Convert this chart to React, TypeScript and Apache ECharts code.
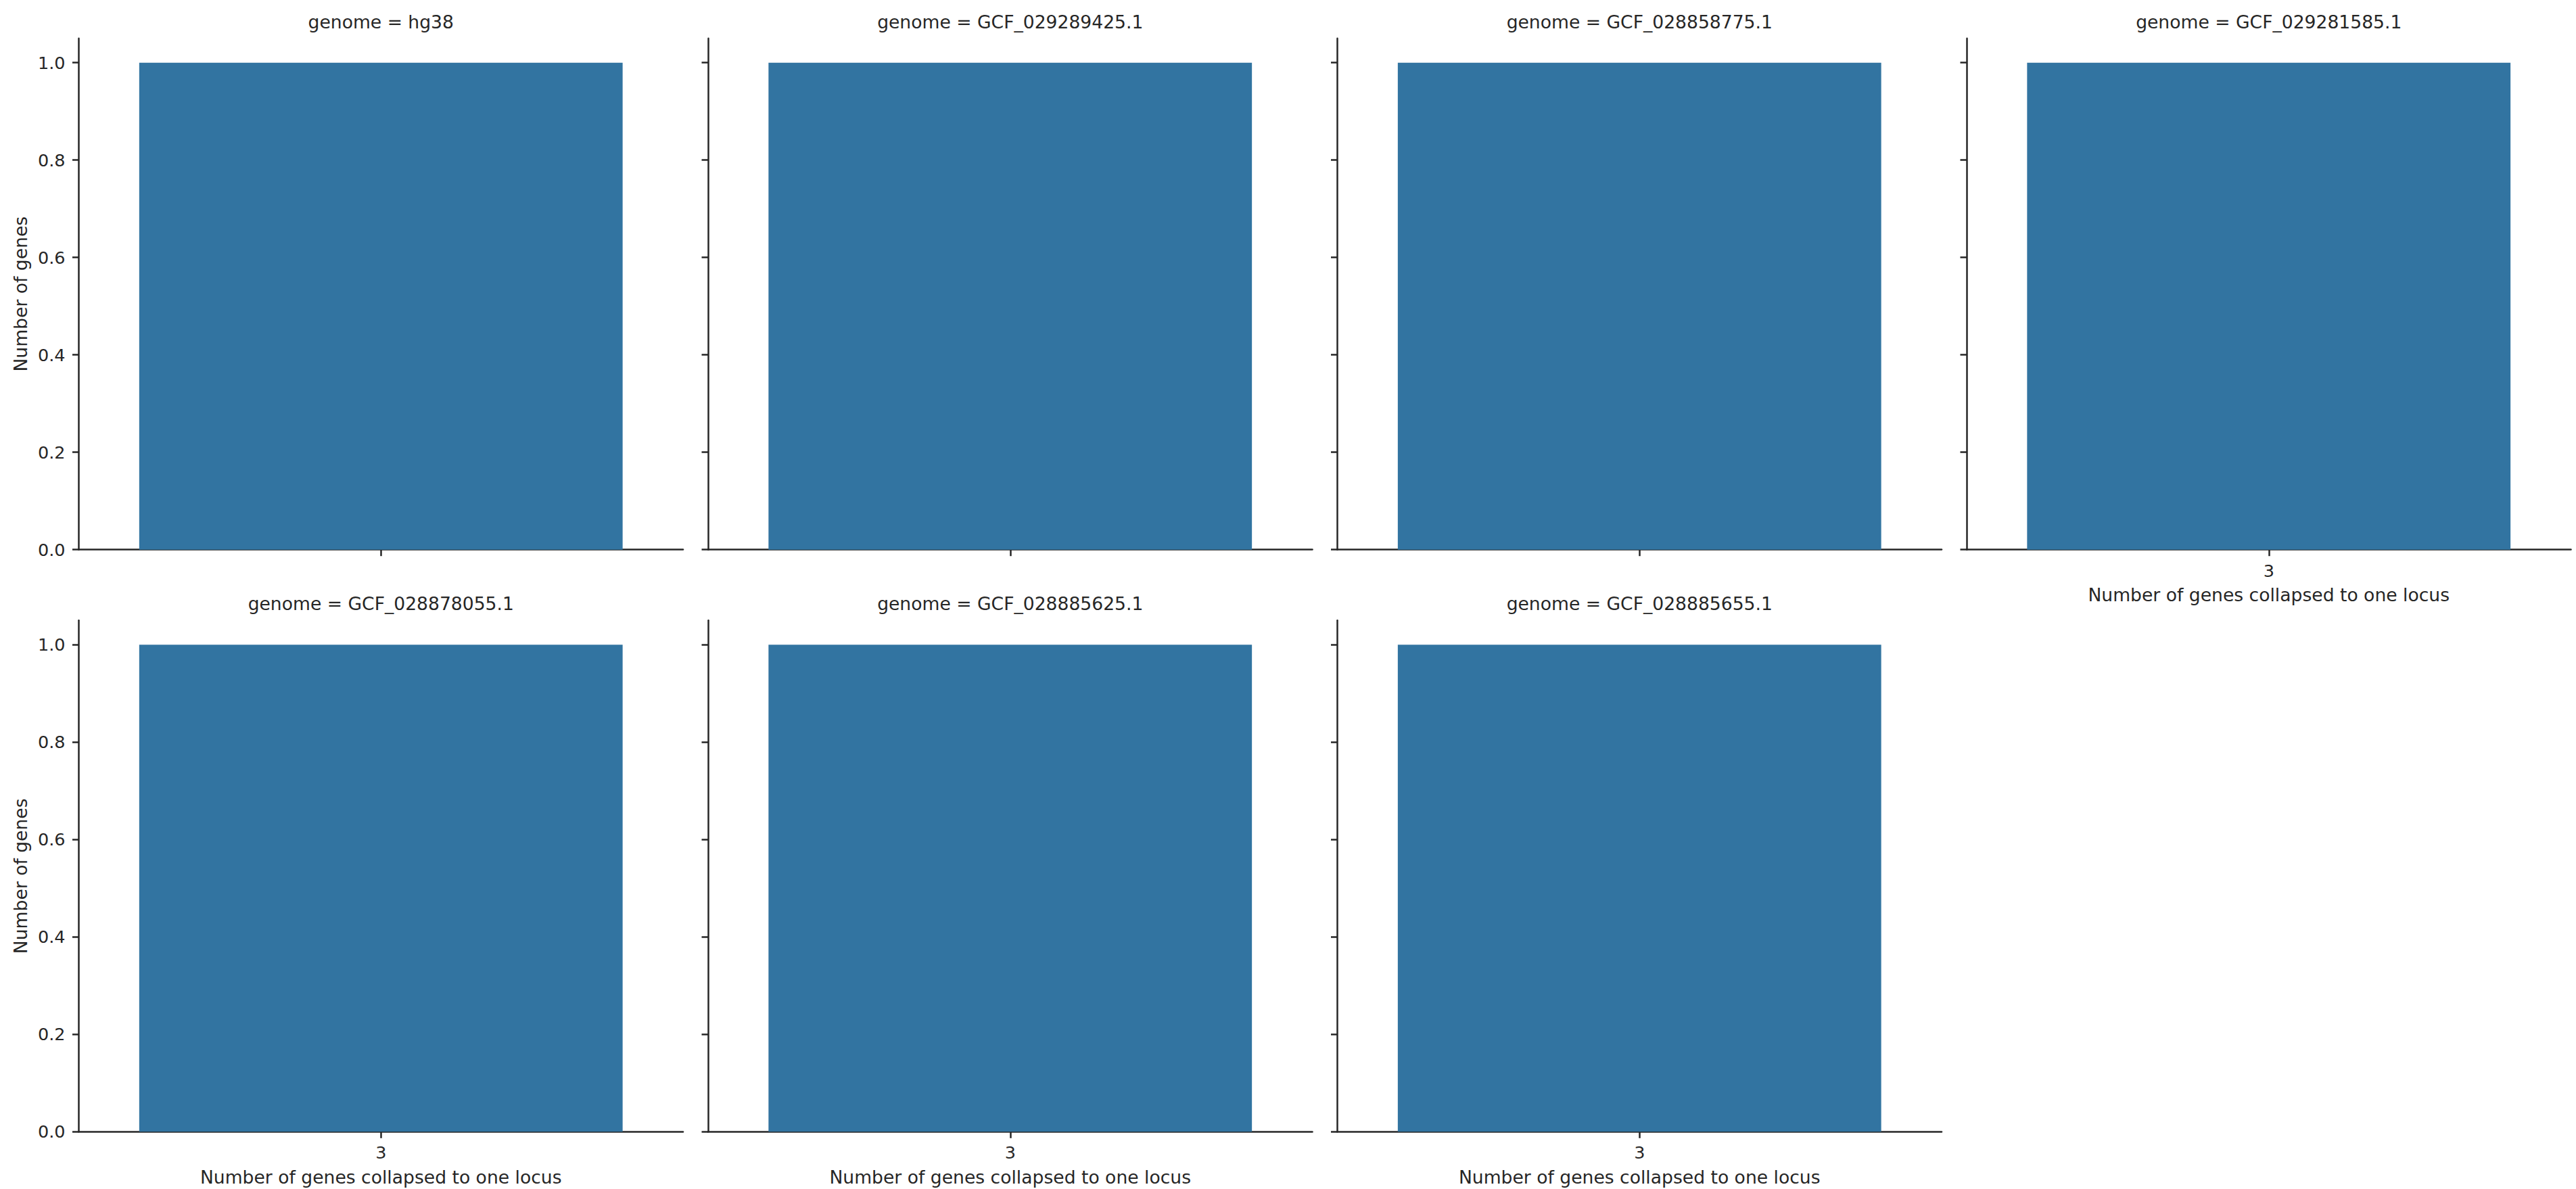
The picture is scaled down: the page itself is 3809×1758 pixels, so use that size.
import React, { useEffect, useRef } from "react";
import * as echarts from "echarts";

const genomes = [
  "hg38",
  "GCF_029289425.1",
  "GCF_028858775.1",
  "GCF_029281585.1",
  "GCF_028878055.1",
  "GCF_028885625.1",
  "GCF_028885655.1",
];
const categories = ["3"];
// number of genes for category "3", one value per genome panel
const geneCounts = [1, 1, 1, 1, 1, 1, 1];
const yTicks = [0, 0.2, 0.4, 0.6, 0.8, 1.0];
const yMax = 1.05;
const xLabel = "Number of genes collapsed to one locus";
const yLabel = "Number of genes";

const W = 3809;
const H = 1758;
const INK = "#262626";
const BAR = "#3274a1";
const FONT = "DejaVu Sans";

const COLS = 4;
const LEFT0 = 116.5;
const COL_STEP = 930.5;
const PANEL_W = 893.5;
const ROW_TOPS = [56.7, 917.3];
const PANEL_H = 756;

export default function App() {
  const ref = useRef<HTMLDivElement>(null);

  useEffect(() => {
    if (!ref.current) return;
    const chart = echarts.init(ref.current, null, { renderer: "svg", width: W, height: H });

    const grids: any[] = [];
    const xAxes: any[] = [];
    const yAxes: any[] = [];
    const series: any[] = [];
    const graphics: any[] = [];
    const n = genomes.length;

    genomes.forEach((g, i) => {
      const row = Math.floor(i / COLS);
      const col = i % COLS;
      const left = LEFT0 + col * COL_STEP;
      const top = ROW_TOPS[row];
      // show x labels if no panel below this one
      const showX = i + COLS >= n;
      const showY = col === 0;

      grids.push({ left, top, width: PANEL_W, height: PANEL_H, containLabel: false });

      xAxes.push({
        type: "category",
        gridIndex: i,
        data: categories,
        boundaryGap: true,
        axisLine: { show: true, onZero: false, lineStyle: { color: INK, width: 2.5 } },
        axisTick: { show: true, alignWithLabel: true, length: 9.5, lineStyle: { color: INK, width: 2.5 } },
        axisLabel: {
          show: showX,
          margin: 18,
          color: INK,
          fontFamily: FONT,
          fontSize: 25.5,
        },
        splitLine: { show: false },
        name: showX ? xLabel : "",
        nameLocation: "middle",
        nameGap: 53.5,
        nameTextStyle: { color: INK, fontFamily: FONT, fontSize: 26.6 },
      });

      yAxes.push({
        type: "value",
        gridIndex: i,
        min: 0,
        max: yMax,
        axisLine: { show: true, lineStyle: { color: INK, width: 2.5 } },
        axisTick: {
          show: true,
          length: 9.5,
          customValues: yTicks,
          lineStyle: { color: INK, width: 2.5 },
        },
        axisLabel: {
          show: showY,
          customValues: yTicks,
          margin: 20,
          color: INK,
          fontFamily: FONT,
          fontSize: 25.5,
          formatter: (v: number) => v.toFixed(1),
        },
        splitLine: { show: false },
        name: showY ? yLabel : "",
        nameLocation: "middle",
        nameRotate: 90,
        nameGap: 73,
        nameTextStyle: { color: INK, fontFamily: FONT, fontSize: 26.6 },
      });

      series.push({
        type: "bar",
        xAxisIndex: i,
        yAxisIndex: i,
        data: [geneCounts[i]],
        barCategoryGap: "20%",
        itemStyle: { color: BAR },
        silent: true,
      });

      graphics.push({
        type: "text",
        x: left + PANEL_W / 2,
        y: top - 24.4,
        style: {
          text: "genome = " + g,
          fill: INK,
          font: `26.6px "${FONT}"`,
          textAlign: "center",
          textVerticalAlign: "middle",
        },
      });
    });

    chart.setOption({
      animation: false,
      backgroundColor: "#ffffff",
      grid: grids,
      xAxis: xAxes,
      yAxis: yAxes,
      series,
      graphic: graphics,
    });

    return () => chart.dispose();
  }, []);

  return (
    <div
      ref={ref}
      style={{ position: "fixed", left: 0, top: 0, width: W, height: H, background: "#fff" }}
    />
  );
}
